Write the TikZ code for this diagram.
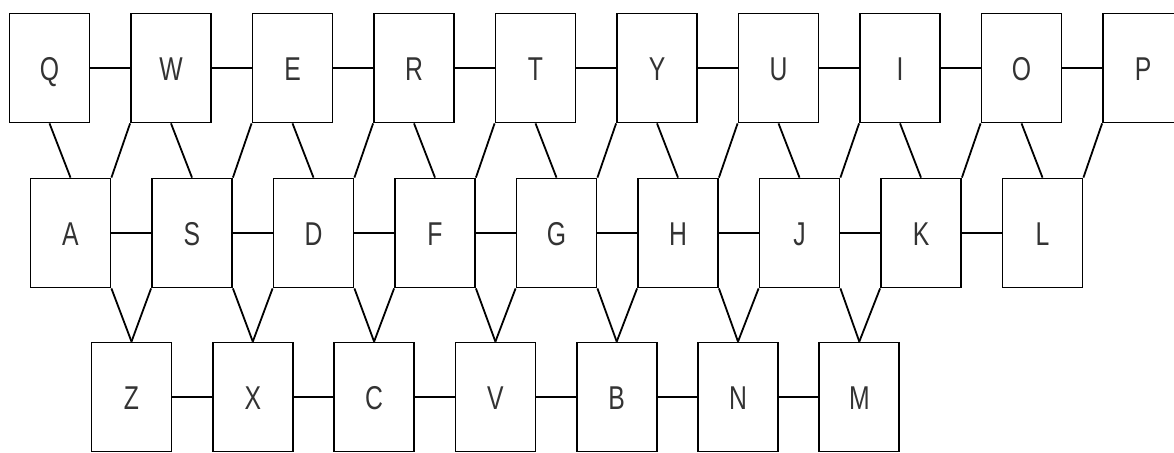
\documentclass[tikz,border=0pt]{standalone}
\usepackage{fontspec}
\newfontfamily\keyfont[FakeStretch=0.75]{Liberation Sans}
\begin{document}
\begin{tikzpicture}[x=1pt,y=-1pt,
  key/.style={draw, line width=1.8pt, minimum width=80pt, minimum height=109pt,
    inner sep=0pt, text height=24pt, text depth=0pt,
    font=\keyfont\fontsize{33}{33}\selectfont, text=black!80},
  link/.style={line width=1.8pt}]
\useasboundingbox (0,0) rectangle (1174,452);
% rows
\foreach \n [count=\i from 0] in {Q,W,E,R,T,Y,U,I,O,P}
  \node[key] (\n) at (49.5+121.5*\i, 68) {\n};
\foreach \n [count=\i from 0] in {A,S,D,F,G,H,J,K,L}
  \node[key] (\n) at (70.5+121.5*\i, 233) {\n};
\foreach \n [count=\i from 0] in {Z,X,C,V,B,N,M}
  \node[key] (\n) at (131.5+121.3*\i, 397) {\n};
% horizontal links
\foreach \a/\b in {Q/W,W/E,E/R,R/T,T/Y,Y/U,U/I,I/O,O/P,
                   A/S,S/D,D/F,F/G,G/H,H/J,J/K,K/L,
                   Z/X,X/C,C/V,V/B,B/N,N/M}
  \draw[link] (\a) -- (\b);
% top to middle
\foreach \t/\m in {Q/A,W/S,E/D,R/F,T/G,Y/H,U/J,I/K,O/L}
  \draw[link] (\t.south) -- (\m.north);
\foreach \t/\m in {W/A,E/S,R/D,T/F,Y/G,U/H,I/J,O/K,P/L}
  \draw[link] (\t.south west) -- (\m.north east);
% middle to bottom
\foreach \m/\b in {A/Z,S/X,D/C,F/V,G/B,H/N,J/M}
  \draw[link] (\m.south east) -- (\b.north);
\foreach \m/\b in {S/Z,D/X,F/C,G/V,H/B,J/N,K/M}
  \draw[link] (\m.south west) -- (\b.north);
\end{tikzpicture}
\end{document}
